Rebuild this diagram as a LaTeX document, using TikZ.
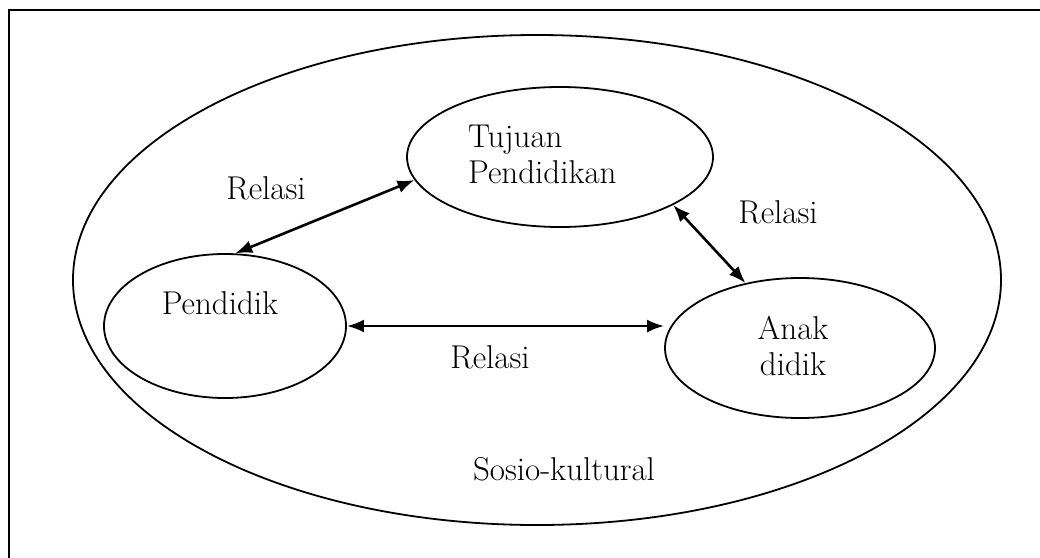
\documentclass[tikz,border=0pt]{standalone}
\usepackage{fontspec}
\usepackage{tikz}
\usetikzlibrary{arrows.meta,shapes.geometric}

\begin{document}
\begin{tikzpicture}[x=1pt,y=-1pt,>={Latex[length=17pt,width=13pt]},
  font=\fontsize{33}{36}\selectfont,
  oval/.style={ellipse,draw,line width=1.8pt,inner sep=0pt},
  tag/.style={inner sep=0pt,anchor=base}]

  \useasboundingbox (0,0) rectangle (1040,557);
  \draw[line width=2.2pt] (9,10) rectangle (1080,600);

  \node[oval,minimum width=928pt,minimum height=490pt] (sosio) at (537,280) {};
  \node[oval,minimum width=306pt,minimum height=140pt] (tujuan) at (560,157) {};
  \node[oval,minimum width=242pt,minimum height=144pt] (pendidik) at (225,326) {};
  \node[oval,minimum width=270pt,minimum height=140pt] (anak) at (800,348) {};

  \node[tag] (tsosio) at (564,480) {Sosio-kultural};
  \node[tag,anchor=base west,align=left] (ttujuan) at (468,183) {Tujuan\\Pendidikan};
  \node[tag] (tpendidik) at (220,314) {Pendidik};
  \node[tag,align=center] (tanak) at (793,375) {Anak\\didik};

  \node[tag] (relasi1) at (266,199) {Relasi};
  \node[tag] (relasi2) at (778,223) {Relasi};
  \node[tag] (relasi3) at (490,368) {Relasi};

  \path[<->,line width=2.6pt]
    (pendidik.82) edge (tujuan.189)
    (tujuan.337) edge (anak.130)
    (pendidik.east) edge (pendidik.east -| anak.west);
\end{tikzpicture}
\end{document}
